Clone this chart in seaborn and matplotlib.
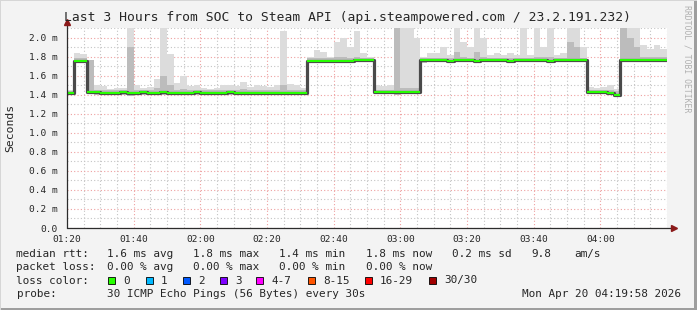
import numpy as np
import pandas as pd
import matplotlib
matplotlib.use("Agg")
import matplotlib.pyplot as plt
import seaborn as sns
from matplotlib.patches import Rectangle
from matplotlib.lines import Line2D
from matplotlib.ticker import MultipleLocator, FuncFormatter

# ---------------- data (2-minute bins starting 01:20) ----------------
median_rtt = [
    1.42, 1.75, 1.75,
    1.43, 1.43, 1.42, 1.42, 1.42, 1.43, 1.42, 1.42, 1.43, 1.42, 1.42, 1.43,
    1.42, 1.42, 1.42, 1.42, 1.43, 1.42, 1.42, 1.42, 1.42, 1.43, 1.42, 1.42,
    1.42, 1.42, 1.42, 1.42, 1.42, 1.42, 1.42, 1.42, 1.42,
    1.75, 1.75, 1.75, 1.75, 1.75, 1.75, 1.75, 1.76, 1.76, 1.76,
    1.43, 1.43, 1.43, 1.43, 1.43, 1.43, 1.43,
    1.76, 1.76, 1.76, 1.76, 1.75, 1.76, 1.76, 1.76, 1.75, 1.76, 1.76, 1.76,
    1.76, 1.75, 1.76, 1.76, 1.76, 1.76, 1.76, 1.75, 1.76, 1.76, 1.76, 1.76, 1.76,
    1.43, 1.43, 1.43, 1.42, 1.40,
    1.76, 1.76, 1.76, 1.76, 1.76, 1.76, 1.76,
]
smoke_lo = [
    1.40, 1.73, 1.73,
    1.41, 1.40, 1.40, 1.40, 1.40, 1.40, 1.39, 1.40, 1.40, 1.40, 1.40, 1.40,
    1.40, 1.40, 1.40, 1.40, 1.40, 1.40, 1.40, 1.40, 1.40, 1.40, 1.40, 1.40,
    1.40, 1.40, 1.40, 1.40, 1.40, 1.40, 1.40, 1.40, 1.40,
    1.73, 1.73, 1.73, 1.73, 1.73, 1.73, 1.73, 1.74, 1.74, 1.74,
    1.41, 1.41, 1.41, 1.40, 1.41, 1.41, 1.41,
    1.73, 1.74, 1.74, 1.74, 1.73, 1.74, 1.74, 1.74, 1.73, 1.74, 1.74, 1.74,
    1.74, 1.73, 1.74, 1.74, 1.74, 1.74, 1.74, 1.73, 1.74, 1.74, 1.74, 1.74, 1.74,
    1.41, 1.41, 1.41, 1.40, 1.38,
    1.74, 1.74, 1.74, 1.74, 1.74, 1.74, 1.74,
]
smoke_mid = [
    1.44, 1.78, 1.78,
    1.76, 1.45, 1.45, 1.45, 1.45, 1.45, 1.90, 1.45, 1.45, 1.45, 1.47, 1.60,
    1.50, 1.45, 1.46, 1.45, 1.45, 1.45, 1.45, 1.45, 1.45, 1.45, 1.45, 1.46,
    1.45, 1.45, 1.45, 1.45, 1.45, 1.50, 1.45, 1.45, 1.45,
    1.78, 1.79, 1.79, 1.78, 1.80, 1.80, 1.79, 1.80, 1.79, 1.78,
    1.45, 1.45, 1.45, 2.20, 1.47, 1.47, 1.47,
    1.78, 1.78, 1.79, 1.79, 1.78, 1.85, 1.80, 1.79, 1.85, 1.80, 1.78, 1.79,
    1.78, 1.79, 1.78, 1.79, 1.78, 1.80, 1.80, 1.80, 1.78, 1.79, 1.95, 1.90, 1.79,
    1.45, 1.45, 1.45, 1.45, 1.44,
    2.20, 2.00, 1.90, 1.80, 1.80, 1.80, 1.80,
]
smoke_hi = [
    1.45, 1.84, 1.83,
    1.76, 1.50, 1.49, 1.46, 1.47, 1.47, 2.20, 1.50, 1.47, 1.48, 1.56, 2.20,
    1.83, 1.52, 1.60, 1.49, 1.50, 1.47, 1.46, 1.47, 1.50, 1.50, 1.49, 1.53,
    1.48, 1.50, 1.49, 1.48, 1.50, 2.07, 1.51, 1.50, 1.47,
    1.80, 1.87, 1.85, 1.80, 1.95, 2.00, 1.90, 2.07, 1.84, 1.80,
    1.50, 1.49, 1.50, 2.20, 2.20, 2.20, 2.00,
    1.80, 1.84, 1.84, 1.90, 1.82, 2.20, 1.95, 1.90, 2.20, 2.00, 1.82, 1.84,
    1.82, 1.84, 1.82, 2.20, 1.82, 2.20, 1.90, 2.20, 1.82, 1.84, 2.20, 2.20, 1.90,
    1.48, 1.47, 1.48, 1.50, 1.46,
    2.20, 2.20, 2.20, 1.92, 1.88, 1.92, 1.88,
]
bin_minutes = 2
tick_labels = ["01:20", "01:40", "02:00", "02:20", "02:40",
               "03:00", "03:20", "03:40", "04:00"]
loss_labels = ["0", "1", "2", "3", "4-7", "8-15", "16-29", "30/30"]
loss_colors = ["#26ff00", "#00b8ff", "#0059ff", "#7e00ff",
               "#ff00ff", "#ff5500", "#ff0000", "#a10000"]

title = "Last 3 Hours from SOC to Steam API (api.steampowered.com / 23.2.191.232)"
rtt_stats = ["1.6 ms avg", "1.8 ms max", "1.4 ms min", "1.8 ms now", "0.2 ms sd"]
loss_stats = ["0.00 % avg", "0.00 % max", "0.00 % min", "0.00 % now"]

# ---------------- build frame ----------------
n = len(median_rtt)
start = np.arange(n) * bin_minutes
df = pd.DataFrame({"start": start, "end": start + bin_minutes,
                   "median": median_rtt, "lo": smoke_lo,
                   "mid": smoke_mid, "hi": smoke_hi})
x_ext = np.append(df["start"].values, df["end"].values[-1])
def ext(col):
    v = df[col].values
    return np.append(v, v[-1])

# ---------------- figure ----------------
sns.set_style("white")
plt.rcParams["font.family"] = ["DejaVu Sans Mono", "DejaVu Sans"]

W, H = 697, 310
fx = lambda p: p / W
fy = lambda p: 1 - p / H

fig = plt.figure(figsize=(W / 100, H / 100), dpi=100)
fig.patch.set_facecolor("#f3f3f3")

ax = fig.add_axes([fx(67), fy(228), 600 / W, 200 / H])
ax.set_facecolor("white")

ax.fill_between(x_ext, ext("lo"), ext("hi"), step="post",
                color="#dcdcdc", lw=0, zorder=2)
ax.fill_between(x_ext, ext("lo"), ext("mid"), step="post",
                color="#bcbcbc", lw=0, zorder=3)
sns.lineplot(x=x_ext, y=ext("median"), drawstyle="steps-post",
             color="#4a4a4a", lw=2.3, estimator=None, ax=ax, zorder=4)
ax.hlines(df["median"], df["start"], df["end"], colors="#26ff00",
          lw=1.5, zorder=5)

ax.set_xlim(0, 180)
ax.set_ylim(0, 2.1)
ax.xaxis.set_major_locator(MultipleLocator(20))
ax.xaxis.set_minor_locator(MultipleLocator(5))
ax.yaxis.set_major_locator(MultipleLocator(0.2))
ax.yaxis.set_minor_locator(MultipleLocator(0.1))
ax.set_xticks(np.arange(len(tick_labels)) * 20)
ax.set_xticklabels(tick_labels)
ax.yaxis.set_major_formatter(FuncFormatter(
    lambda v, p: "0.0" if abs(v) < 1e-9 else f"{v:.1f} m"))

ax.set_axisbelow(True)
ax.grid(which="major", color="#eea0a0", linestyle=(0, (1, 2)), lw=0.8)
ax.grid(which="minor", color="#c4c4c4", linestyle=(0, (1, 2)), lw=0.8)
for s in ax.spines.values():
    s.set_visible(False)
ax.tick_params(which="major", direction="inout", length=4, width=0.6,
               color="#666666", labelsize=6.8)
ax.tick_params(which="minor", direction="inout", length=2, width=0.5,
               color="#888888")
ax.tick_params(axis="x", pad=3)
ax.tick_params(axis="y", pad=4.5)
ax.set_xlabel("")
ax.set_ylabel("")

# axis lines with arrows
fig.add_artist(Line2D([fx(67), fx(673)], [fy(228), fy(228)],
                      color="#2c2c2c", lw=0.9))
fig.add_artist(Line2D([fx(674)], [fy(228)], marker=">", markersize=4,
                      color="#8b1a1a", lw=0))
fig.add_artist(Line2D([fx(67), fx(67)], [fy(228), fy(24)],
                      color="#2c2c2c", lw=0.9))
fig.add_artist(Line2D([fx(67)], [fy(22)], marker="^", markersize=4,
                      color="#8b1a1a", lw=0))

# frame shading
fig.add_artist(Rectangle((0, 0), 1, 2 / H, transform=fig.transFigure,
                         color="#9e9e9e", lw=0))
fig.add_artist(Rectangle((1 - 3 / W, 0), 3 / W, 1, transform=fig.transFigure,
                         color="#9e9e9e", lw=0))
fig.add_artist(Rectangle((0, 1 - 1 / H), 1, 1 / H, transform=fig.transFigure,
                         color="#d6d6d6", lw=0))
fig.add_artist(Rectangle((0, 0), 1 / W, 1, transform=fig.transFigure,
                         color="#d6d6d6", lw=0))

# texts
fig.text(fx(347), fy(18), title, ha="center", va="center", fontsize=9.4)
fig.text(fx(10), fy(128), "Seconds", rotation=90, ha="center", va="center",
         fontsize=8.2)
fig.text(fx(687), fy(5), "RRDTOOL / TOBI OETIKER", rotation=270,
         ha="center", va="top", fontsize=5.9, color="#b0b0b0")

fs = 7.95
rows = [254, 267.5, 280.5, 294]
fig.text(fx(16.5), fy(rows[0]), "median rtt:", va="center", fontsize=fs)
for i, s in enumerate(rtt_stats):
    fig.text(fx(107 + 86.2 * i), fy(rows[0]), s, va="center", fontsize=fs)
fig.text(fx(531), fy(rows[0]), "9.8", va="center", fontsize=fs)
fig.text(fx(574), fy(rows[0]), "am/s", va="center", fontsize=fs)

fig.text(fx(16.5), fy(rows[1]), "packet loss:", va="center", fontsize=fs)
for i, s in enumerate(loss_stats):
    fig.text(fx(107 + 86.2 * i), fy(rows[1]), s, va="center", fontsize=fs)

fig.text(fx(16.5), fy(rows[2]), "loss color:", va="center", fontsize=fs)
sq_x = [108.3, 146, 182.7, 220, 256, 308.3, 365, 429.3]
for xs, lab, col in zip(sq_x, loss_labels, loss_colors):
    fig.add_artist(Rectangle((fx(xs), fy(rows[2] + 3.5)), 7 / W, 7 / H,
                             transform=fig.transFigure, facecolor=col,
                             edgecolor="black", lw=0.6))
    fig.text(fx(xs + 15), fy(rows[2]), lab, va="center", fontsize=fs)

fig.text(fx(16.5), fy(rows[3]), "probe:", va="center", fontsize=fs)
fig.text(fx(107), fy(rows[3]), "30 ICMP Echo Pings (56 Bytes) every 30s",
         va="center", fontsize=fs)
fig.text(fx(681), fy(rows[3]), "Mon Apr 20 04:19:58 2026", ha="right",
         va="center", fontsize=fs)

fig.savefig("out.png", dpi=100, facecolor=fig.get_facecolor())
